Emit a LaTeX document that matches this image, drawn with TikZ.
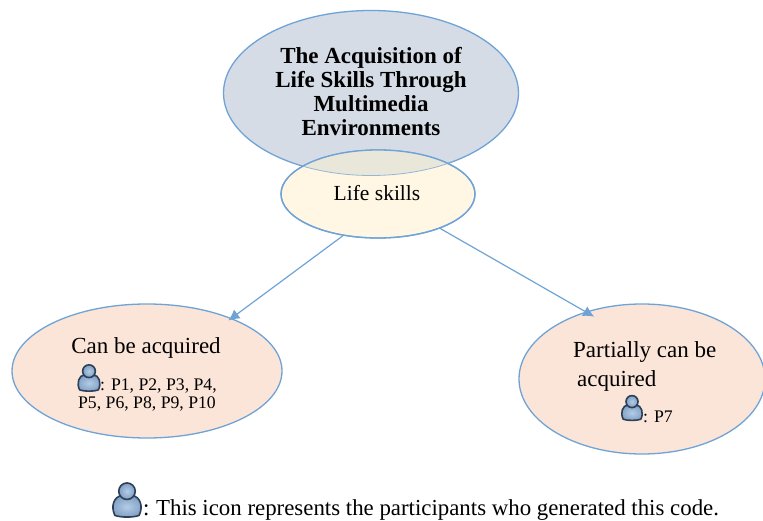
\documentclass[tikz,border=0pt]{standalone}
\usepackage{fontspec}
\setmainfont{Liberation Serif}
\usetikzlibrary{shapes.geometric,arrows.meta}
\definecolor{edgeblue}{HTML}{6FA3D6}
\definecolor{topfill}{HTML}{D5DCE6}
\definecolor{lifefill}{HTML}{FFF7E4}
\definecolor{overlapfill}{HTML}{E9E7DA}
\definecolor{peachfill}{HTML}{FBE5D8}
\definecolor{icondark}{HTML}{2E4057}
\definecolor{iconlight}{HTML}{B4CCE6}
\definecolor{iconmid}{HTML}{7E9FC4}
\newcommand{\personicon}[3]{%
  \begin{scope}[shift={(#1,#2)},scale=#3]
    \draw[icondark,line width=1.6pt,inner color=iconlight,outer color=iconmid]
      (-11,14) .. controls (-15,6) and (-12,-3) .. (-5,-4)
      .. controls (-2,-3) and (2,-3) .. (5,-4)
      .. controls (12,-3) and (15,6) .. (11,14)
      .. controls (6,16) and (-6,16) .. (-11,14) -- cycle;
    \draw[icondark,line width=1.6pt,inner color=iconlight,outer color=iconmid]
      (0,-8) circle [radius=7.5];
  \end{scope}}
\tikzset{
  blob/.style={ellipse,draw=edgeblue,line width=1.3pt,inner sep=0pt},
  flow/.style={draw=edgeblue,line width=1.2pt,-{Latex[length=11pt,width=11pt]}},
  label/.style={inner sep=0pt,text=black,font=\fontsize{23}{27}\selectfont},
  small/.style={inner sep=0pt,text=black,font=\fontsize{17.7}{21}\selectfont},
}
\begin{document}
\begin{tikzpicture}[x=1pt,y=-1pt]
\useasboundingbox (0,0) rectangle (763,521);
\node[blob,fill=topfill,minimum width=295pt,minimum height=165pt] (top) at (371,93) {};
\node[inner sep=0pt,align=center,font=\fontsize{23}{24}\selectfont\bfseries] (title) at (371,92)
  {The Acquisition of\\Life Skills Through\\Multimedia\\Environments};
\node[blob,fill=lifefill,minimum width=194pt,minimum height=88pt] (life) at (378,194) {};
\begin{scope}
  \clip (371,93) ellipse [x radius=147.5, y radius=82.5];
  \fill[overlapfill] (378,194) ellipse [x radius=97, y radius=44];
\end{scope}
\begin{scope}
  \clip (378,194) ellipse [x radius=97, y radius=44];
  \draw[edgeblue!70!overlapfill,line width=.8pt] (371,93) ellipse [x radius=147.5, y radius=82.5];
\end{scope}
\draw[edgeblue,line width=1.3pt] (378,194) ellipse [x radius=97, y radius=44];
\node[label,font=\fontsize{21.5}{24}\selectfont] (lifetext) at (377,193) {Life skills};
\node[blob,fill=peachfill,minimum width=270pt,minimum height=134pt] (can) at (147,371) {};
\node[blob,fill=peachfill,minimum width=246pt,minimum height=150pt] (part) at (642,379) {};
\draw[flow,shorten >=-4pt] (life.230) -- (can.32);
\draw[flow,shorten >=-10pt] (life.331) -- (part.130);
\node[label] (cantext) at (146,348) {Can be acquired};
\node[small,anchor=base west] (canone) at (100,390) {: P1, P2, P3, P4,};
\node[small,anchor=base] (cantwo) at (147,408) {P5, P6, P8, P9, P10};
\personicon{89}{378}{0.85}
\node[label,anchor=base west] (partone) at (573,357) {Partially can be};
\node[label,anchor=base west] (parttwo) at (577,386) {acquired};
\node[small,anchor=base west] (partthree) at (643,422) {: P7};
\personicon{632}{408}{0.8}
\personicon{127}{500}{1.1}
\node[label,anchor=base west,font=\fontsize{22.85}{27}\selectfont] (note) at (143,515) {:\kern-1pt{} This icon represents the participants who generated this code.};
\end{tikzpicture}
\end{document}
